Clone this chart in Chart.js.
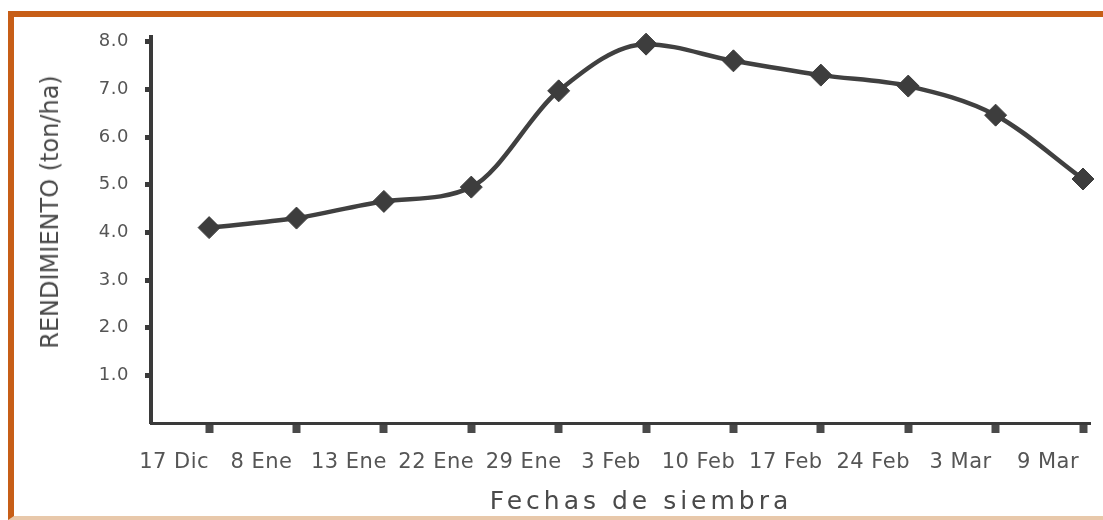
<!DOCTYPE html>
<html>
<head>
<meta charset="utf-8">
<script src="https://cdn.jsdelivr.net/npm/chart.js@4.4.1/dist/chart.umd.min.js"></script>
<style>
  html, body { margin: 0; padding: 0; background: #fff; }
  #wrap { position: relative; width: 1103px; height: 520px; overflow: hidden; }
  #frame {
    position: absolute; left: 8px; top: 11px; width: 1200px; height: 509px;
    border-left: 6px solid #c75e17; border-top: 6px solid #c75e17;
    border-bottom: 4px solid #e8c8aa; box-sizing: border-box;
  }
  canvas { position: absolute; left: 0; top: 0; }
  .ttl { position: absolute; font-family: "DejaVu Sans"; color: #4a4a4a; white-space: nowrap; }
  #ytitle { left: 50px; top: 212px; font-size: 24px; transform: translate(-50%, -50%) rotate(-90deg); }
  #xtitle { left: 641px; top: 500px; font-size: 25px; letter-spacing: 4px; transform: translate(-50%, -50%); }
</style>
</head>
<body>
<div id="wrap">
  <div id="frame"></div>
  <canvas id="chart" width="1103" height="520"></canvas>
  <div class="ttl" id="ytitle">RENDIMIENTO (ton/ha)</div>
  <div class="ttl" id="xtitle">Fechas de siembra</div>
</div>
<script>
// Fechas de siembra y rendimiento
const fechas = ['17 Dic', '8 Ene', '13 Ene', '22 Ene', '29 Ene', '3 Feb', '10 Feb', '17 Feb', '24 Feb', '3 Mar', '9 Mar'];
const rendimiento = [4.1, 4.3, 4.65, 4.95, 6.97, 7.95, 7.6, 7.3, 7.07, 6.46, 5.12];
const yTicks = [1, 2, 3, 4, 5, 6, 7, 8];

// slightly wider letters on the tick labels, like the original typeface
const spacingPlugin = {
    id: 'spacing',
    beforeDraw: chart => { chart.ctx.letterSpacing = '0.5px'; }
};

const ctx = document.getElementById('chart');
const chart = new Chart(ctx, {
    type: 'line',
    data: {
        datasets: [{
            data: rendimiento.map((v, i) => ({ x: i, y: v })),
            borderColor: '#404040',
            borderWidth: 4.5,
            cubicInterpolationMode: 'monotone',
            pointStyle: 'rectRot',
            pointRadius: 11,
            pointBackgroundColor: '#3d3d3d',
            pointBorderColor: '#3d3d3d',
            pointBorderWidth: 1,
            clip: false
        }]
    },
    plugins: [spacingPlugin],
    options: {
        responsive: false,
        animation: false,
        layout: { padding: { left: 8, top: 37, right: 13, bottom: 0 } },
        plugins: {
            legend: { display: false },
            tooltip: { enabled: false }
        },
        scales: {
            x: {
                type: 'linear',
                min: -0.665,
                max: 10.08,
                afterBuildTicks: scale => {
                    scale.ticks = fechas.map((_, i) => ({ value: i }));
                },
                afterFit: scale => {
                    scale.height = 97;
                    // labels are shifted by hand, so no extra room at the ends
                    scale.paddingLeft = 0;
                    scale.paddingRight = 0;
                },
                ticks: {
                    autoSkip: false,
                    maxRotation: 0,
                    labelOffset: -35,
                    padding: 17,
                    color: '#555',
                    font: { family: 'DejaVu Sans', size: 21 },
                    callback: value => fechas[value]
                },
                grid: {
                    drawOnChartArea: false,
                    tickLength: 10,
                    tickWidth: 8,
                    tickColor: '#4a4a4a'
                },
                border: { color: '#3a3a3a', width: 3 }
            },
            y: {
                min: 0,
                max: 8.1,
                afterBuildTicks: scale => {
                    scale.ticks = yTicks.map(v => ({ value: v }));
                },
                afterFit: scale => { scale.width = 143; },
                ticks: {
                    padding: 16,
                    color: '#555',
                    font: { family: 'DejaVu Sans', size: 18 },
                    callback: value => value.toFixed(1)
                },
                grid: {
                    drawOnChartArea: false,
                    tickLength: 6,
                    tickWidth: 5,
                    tickColor: '#3a3a3a'
                },
                border: { color: '#3a3a3a', width: 4 }
            }
        }
    }
});
</script>
</body>
</html>
